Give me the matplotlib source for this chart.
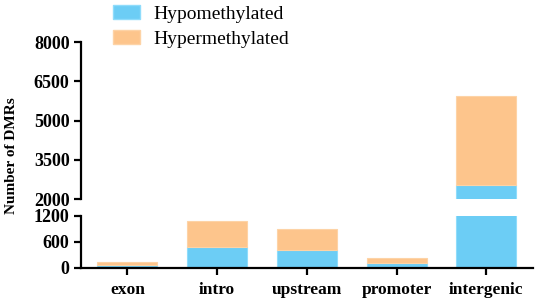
import numpy as np
import matplotlib
matplotlib.use('Agg')
import matplotlib.pyplot as plt
from matplotlib.patches import Patch

# Data
categories = ['exon', 'intro', 'upstream', 'promoter', 'intergenic']
hypo = [62, 478, 422, 108, 2520]
hyper = [76, 600, 485, 116, 3430]

top_ticks = [2000, 3500, 5000, 6500, 8000]
bottom_ticks = [0, 600, 1200]

blue = '#6ccdf5'
orange = '#fdc58c'

plt.rcParams['font.family'] = ['Liberation Serif', 'DejaVu Serif']

fig = plt.figure(figsize=(5.36, 2.99), dpi=100)
left, width = 0.1506, 0.8438
ax_top = fig.add_axes([left, 0.3344, width, 0.5251])
ax_bot = fig.add_axes([left, 0.1037, width, 0.1739])

x = np.arange(len(categories))
for ax in (ax_top, ax_bot):
    ax.bar(x, hypo, width=0.67, color=blue, edgecolor='#8fdcfb', linewidth=0.8)
    ax.bar(x, hyper, width=0.67, bottom=hypo, color=orange, edgecolor='#fdd3a6', linewidth=0.8)
    ax.set_xlim(-0.52, 4.52)
    for s in ('top', 'right'):
        ax.spines[s].set_visible(False)
    ax.spines['left'].set_linewidth(1.6)
    ax.spines['bottom'].set_linewidth(1.6)
    ax.tick_params(axis='both', width=1.6, length=5, labelsize=13)
    ax.tick_params(axis='y', pad=3)

ax_top.set_ylim(2000, 8000)
ax_top.set_yticks(top_ticks)
ax_top.set_yticklabels([str(t) for t in top_ticks], fontweight='bold')
ax_top.spines['bottom'].set_visible(False)
ax_top.set_xticks([])

ax_bot.set_ylim(0, 1200)
ax_bot.set_yticks(bottom_ticks)
ax_bot.set_yticklabels([str(t) for t in bottom_ticks], fontweight='bold')
ax_bot.set_xticks(x)
ax_bot.set_xticklabels(categories, fontweight='bold', fontsize=12.5)
ax_bot.tick_params(axis='x', pad=5)

fig.text(0.022, 0.478, 'Number of DMRs', rotation=90, ha='center', va='center',
         fontsize=11, fontweight='bold')

handles = [Patch(facecolor=blue, edgecolor='#8fdcfb'),
           Patch(facecolor=orange, edgecolor='#fdd3a6')]
fig.legend(handles, ['Hypomethylated', 'Hypermethylated'], loc='upper left',
           bbox_to_anchor=(0.211, 0.983), frameon=False, fontsize=14,
           borderpad=0, borderaxespad=0,
           handlelength=1.4, handleheight=0.7, handletextpad=0.65, labelspacing=0.38)

plt.savefig('out.png', dpi=100)
